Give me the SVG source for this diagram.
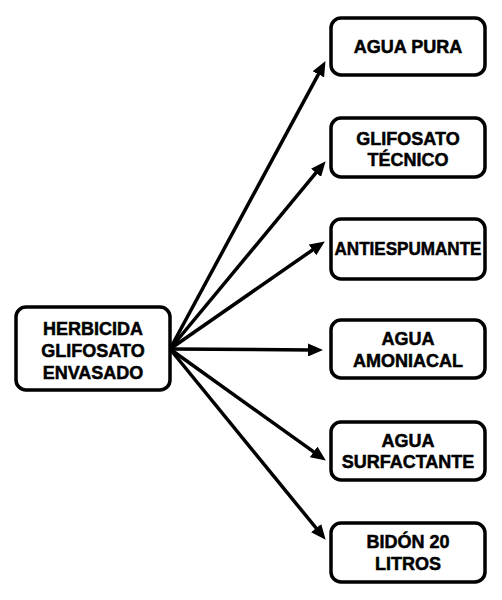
<svg xmlns="http://www.w3.org/2000/svg" width="502" height="600" viewBox="0 0 502 600">
<style>
.box{fill:#fff;stroke:#000;stroke-width:3.5}
.t{font-family:"Liberation Sans",Arial,sans-serif;font-weight:bold;font-size:18px;fill:#000;stroke:#000;stroke-width:0.5;text-anchor:middle}
.c{stroke:#000;stroke-width:3.5;fill:none;marker-end:url(#ah)}
</style>
<defs>
<marker id="ah" markerUnits="userSpaceOnUse" markerWidth="15" markerHeight="13" refX="4" refY="6.5" orient="auto">
<path d="M0,0 L15,6.5 L0,13 z" fill="#000"/>
</marker>
</defs>
<rect width="502" height="600" fill="#fff"/>
<g id="connectors">
<line class="c" x1="170" y1="349" x2="320.25" y2="70.8"/>
<line class="c" x1="170" y1="349" x2="318.6" y2="169.7"/>
<line class="c" x1="170" y1="349" x2="315.8" y2="247.7"/>
<line class="c" x1="170" y1="349" x2="312" y2="350"/>
<line class="c" x1="170" y1="349" x2="316.9" y2="454.2"/>
<line class="c" x1="170" y1="349" x2="318.7" y2="531.25"/>
</g>
<g id="n-herbicida">
<rect class="box" x="16" y="307" width="154" height="83" rx="10"/>
<text class="t" x="93" y="335">HERBICIDA</text>
<text class="t" x="93" y="357">GLIFOSATO</text>
<text class="t" x="93" y="379">ENVASADO</text>
</g>
<g id="n-agua-pura">
<rect class="box" x="331" y="18" width="154" height="57" rx="10"/>
<text class="t" x="408" y="53">AGUA PURA</text>
</g>
<g id="n-glifosato-tecnico">
<rect class="box" x="331" y="118" width="154" height="59" rx="10"/>
<text class="t" x="408" y="145">GLIFOSATO</text>
<text class="t" x="408" y="166">TÉCNICO</text>
</g>
<g id="n-antiespumante">
<rect class="box" x="331" y="219" width="154" height="60" rx="10"/>
<text class="t" x="408" y="255" textLength="147" lengthAdjust="spacingAndGlyphs">ANTIESPUMANTE</text>
</g>
<g id="n-agua-amoniacal">
<rect class="box" x="331" y="320" width="154" height="58" rx="10"/>
<text class="t" x="408" y="345">AGUA</text>
<text class="t" x="408" y="367">AMONIACAL</text>
</g>
<g id="n-agua-surfactante">
<rect class="box" x="331" y="422" width="154" height="58" rx="10"/>
<text class="t" x="408" y="447">AGUA</text>
<text class="t" x="408" y="468">SURFACTANTE</text>
</g>
<g id="n-bidon">
<rect class="box" x="331" y="523" width="154" height="59" rx="10"/>
<text class="t" x="408" y="548">BIDÓN 20</text>
<text class="t" x="408" y="570">LITROS</text>
</g>
</svg>
